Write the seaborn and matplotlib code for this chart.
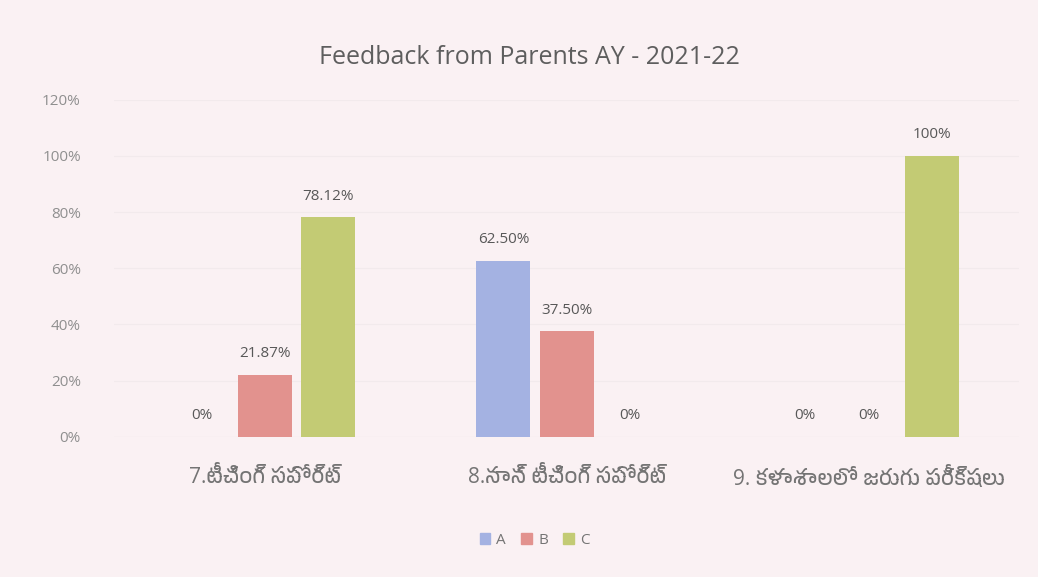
import numpy as np
import pandas as pd
import seaborn as sns
import matplotlib.pyplot as plt
from matplotlib import font_manager
from matplotlib.ft2font import FT2Font

# data
categories = ["7.టీచింగ్ సపోర్ట్", "8.నాన్ టీచింగ్ సపోర్ట్", "9. కళాశాలలో జరుగు పరీక్షలు"]
series = ["A", "B", "C"]
vals_a = [0, 62.50, 0]
vals_b = [21.87, 37.50, 0]
vals_c = [78.12, 0, 100]
labels_a = ["0%", "62.50%", "0%"]
labels_b = ["21.87%", "37.50%", "0%"]
labels_c = ["78.12%", "0%", "100%"]
yticks = [0, 20, 40, 60, 80, 100, 120]

# look for a font with telugu glyphs
telugu_font = None
for f in font_manager.fontManager.ttflist:
    if "Telugu" in f.name:
        telugu_font = f.name
        break
if telugu_font is None:
    for f in font_manager.fontManager.ttflist:
        try:
            if 0x0C1F in FT2Font(f.fname).get_charmap():
                telugu_font = f.name
                break
        except Exception:
            pass

df = pd.DataFrame({
    "category": categories * 3,
    "series": ["A"] * 3 + ["B"] * 3 + ["C"] * 3,
    "value": vals_a + vals_b + vals_c,
})

sns.set_theme(style="white")
fams = ["Open Sans", "DejaVu Sans"]
if telugu_font:
    fams = ["Open Sans", telugu_font, "DejaVu Sans"]
plt.rcParams["font.family"] = fams

bg = "#faf1f3"
colors = ["#a4b2e2", "#e2928e", "#c3cb74"]

fig = plt.figure(figsize=(10.38, 5.77), dpi=100, facecolor=bg)
ax = fig.add_axes([0.11, 0.243, 0.872, 0.584], facecolor=bg)

sns.barplot(data=df, x="category", y="value", hue="series", palette=colors,
            width=0.63, gap=0.15, ax=ax, legend=False, saturation=1, linewidth=0)

for cont, labs in zip(ax.containers, [labels_a, labels_b, labels_c]):
    ax.bar_label(cont, labels=labs, padding=10, fontsize=11, color="#585858")

ax.set_ylim(0, 120)
ax.set_yticks(yticks)
ax.set_yticklabels([f"{t}%" for t in yticks], fontsize=11, color="#8f8f8f")
ax.tick_params(axis="y", pad=24, length=0)
ax.tick_params(axis="x", pad=22, length=0)
for t in ax.get_xticklabels():
    t.set_fontsize(15)
    t.set_color("#747474")
ax.set_xlabel("")
ax.set_ylabel("")
ax.yaxis.grid(True, color="#f2eaec", linewidth=0.8)
ax.set_axisbelow(True)
sns.despine(ax=ax, left=True, bottom=True)
ax.axhline(0, color="#e8dfe1", linewidth=0.8, zorder=0)

fig.text(0.51, 0.9, "Feedback from Parents AY - 2021-22", ha="center",
         va="center", fontsize=18, color="#5e5e5e")

handles = [plt.Rectangle((0, 0), 1, 1, color=c) for c in colors]
fig.legend(handles, series, loc="center", bbox_to_anchor=(0.515, 0.063), ncol=3,
           frameon=False, fontsize=11, handlelength=0.7, handleheight=0.7,
           columnspacing=1.0, handletextpad=0.4, labelcolor="#747474")

fig.savefig("out.png", dpi=100, facecolor=bg)
